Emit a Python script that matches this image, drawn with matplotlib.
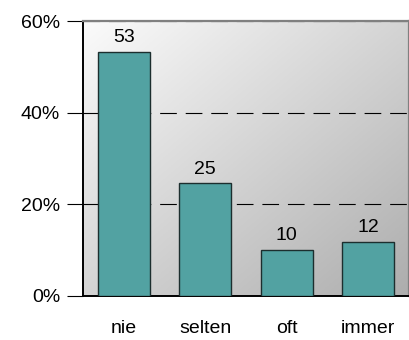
import matplotlib.pyplot as plt
import numpy as np
from matplotlib.colors import LinearSegmentedColormap

plt.rcParams['font.family'] = ['Liberation Sans', 'DejaVu Sans']

categories = ["nie", "selten", "oft", "immer"]
values = [53.3, 24.6, 10.1, 11.8]
labels = ["53", "25", "10", "12"]
yticks = [0, 20, 40, 60]

fig = plt.figure(figsize=(4.1, 3.4), dpi=100)
ax = fig.add_axes([83 / 410, 44 / 340, 326 / 410, 275 / 340])

# diagonal gray gradient, light top-left to dark bottom-right
yy, xx = np.mgrid[0:1:200j, 0:1:200j]
grad = 0.5 * (xx + yy)
bg = LinearSegmentedColormap.from_list('bg', ['#fbfbfb', '#adadad'])
ax.imshow(grad, extent=[-0.5, 3.5, 0, 60], origin='upper', aspect='auto',
          cmap=bg, zorder=0)

x = np.arange(len(categories))
bars = ax.bar(x, values, width=0.64, color='#52a2a2', edgecolor='#1c2e2e',
              linewidth=1.0, zorder=3)
for b, lab in zip(bars, labels):
    ax.annotate(lab, (b.get_x() + b.get_width() / 2, b.get_height()),
                xytext=(0, 4), textcoords='offset points',
                ha='center', va='bottom', fontsize=14, zorder=4)

for yv in yticks[1:]:
    ax.axhline(yv, color='black', lw=0.8, dashes=(15, 8), zorder=2)

ax.set_xlim(-0.5, 3.5)
ax.set_ylim(0, 60)
ax.set_yticks(yticks)
ax.set_yticklabels([f"{v}%" for v in yticks], fontsize=14)
ax.set_xticks(x)
ax.set_xticklabels(categories, fontsize=14)
ax.tick_params(axis='x', length=0, pad=17)
ax.tick_params(axis='y', length=11.5, width=0.8, pad=5, direction='out')
ax.get_yticklines()[-2].set_color('#808080')

ax.spines['left'].set_color('black')
ax.spines['bottom'].set_color('black')
ax.spines['left'].set_linewidth(1.4)
ax.spines['bottom'].set_linewidth(1.4)
ax.spines['top'].set_color('#808080')
ax.spines['right'].set_color('#808080')
ax.spines['top'].set_linewidth(1.6)
ax.spines['right'].set_linewidth(1.6)

fig.savefig('out.png', dpi=100)
